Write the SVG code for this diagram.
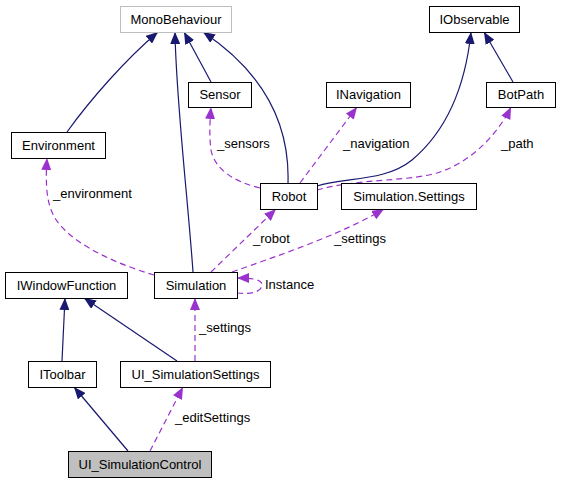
<svg xmlns="http://www.w3.org/2000/svg" width="561" height="483" viewBox="0 0 561 483">
<style>
text{font-family:"Liberation Sans",Arial,sans-serif;font-size:13px;fill:#000}
.n rect{fill:#fff;stroke:#000;stroke-width:1}
.n text{text-anchor:middle}
.inh{fill:none;stroke:#191970;stroke-width:1.2;marker-end:url(#ah)}
.use{fill:none;stroke:#9a32cd;stroke-width:1.2;stroke-dasharray:6,4;marker-end:url(#ap)}
</style>
<defs>
<marker id="ah" viewBox="0 0 12 10" refX="12" refY="5" markerWidth="12" markerHeight="10" markerUnits="userSpaceOnUse" orient="auto"><path d="M0,0 L12,5 L0,10 z" fill="#191970"/></marker>
<marker id="ap" viewBox="0 0 12 10" refX="12" refY="5" markerWidth="12" markerHeight="10" markerUnits="userSpaceOnUse" orient="auto"><path d="M0,0 L12,5 L0,10 z" fill="#9a32cd"/></marker>
</defs>
<rect width="561" height="483" fill="#fff"/>
<g id="connectors">
<path class="inh" d="M67,132 C90,100 125,60 158,32"/>
<path class="inh" d="M193,272 C188,200 176,100 175,32"/>
<path class="inh" d="M211,82 L184,32"/>
<path class="inh" d="M288,183 C290,120 260,70 203,32"/>
<path class="inh" d="M513,82 L484,32"/>
<path class="inh" d="M317,186 C345,177 385,182 412,160 C450,128 466,80 471,32"/>
<path class="inh" d="M62,361 L65,298"/>
<path class="inh" d="M177,361 L84,298"/>
<path class="inh" d="M128,451 L74,387"/>
<path class="use" d="M260,188 C235,182 215,170 211,150 C209,135 210,120 211,107"/>
<path class="use" d="M300,183 L357,107"/>
<path class="use" d="M317,190 C360,178 410,182 440,172 C475,160 500,130 511,107"/>
<path class="use" d="M154,275 C120,265 80,248 60,225 C47,210 45,190 47,158"/>
<path class="use" d="M211,272 L276,209"/>
<path class="use" d="M232,272 C280,255 340,235 384,209"/>
<path class="use" d="M237,293 C255,295 262,290 262,285 C262,280 255,278 237,278"/>
<path class="use" d="M195,361 L195,298"/>
<path class="use" d="M150,451 L183,387"/>
<text x="217" y="148">_sensors</text>
<text x="343" y="148">_navigation</text>
<text x="501" y="148">_path</text>
<text x="53" y="198">_environment</text>
<text x="253" y="243">_robot</text>
<text x="334" y="243">_settings</text>
<text x="265" y="289">Instance</text>
<text x="199" y="332">_settings</text>
<text x="175" y="422">_editSettings</text>
</g>
<g id="MonoBehaviour" class="n"><rect x="120.5" y="6.5" width="111" height="26" style="stroke:#bfbfbf"/><text x="176" y="23.5">MonoBehaviour</text></g>
<g id="Sensor" class="n"><rect x="188.5" y="82.5" width="63" height="25"/><text x="220" y="99">Sensor</text></g>
<g id="Environment" class="n"><rect x="11.5" y="132.5" width="94" height="26"/><text x="58.5" y="149.5">Environment</text></g>
<g id="IObservable" class="n"><rect x="429.5" y="6.5" width="90" height="26"/><text x="474.5" y="23.5">IObservable</text></g>
<g id="INavigation" class="n"><rect x="326.5" y="82.5" width="84" height="25"/><text x="368.5" y="99">INavigation</text></g>
<g id="BotPath" class="n"><rect x="486.5" y="82.5" width="69" height="25"/><text x="521" y="99">BotPath</text></g>
<g id="Robot" class="n"><rect x="260.5" y="183.5" width="57" height="26"/><text x="289" y="200.5">Robot</text></g>
<g id="SimulationSettings" class="n"><rect x="341.5" y="183.5" width="135" height="26"/><text x="409" y="200.5">Simulation.Settings</text></g>
<g id="Simulation" class="n"><rect x="154.5" y="272.5" width="83" height="26"/><text x="196" y="289.5">Simulation</text></g>
<g id="IWindowFunction" class="n"><rect x="5.5" y="272.5" width="122" height="26"/><text x="66.5" y="289.5">IWindowFunction</text></g>
<g id="IToolbar" class="n"><rect x="28.5" y="361.5" width="68" height="26"/><text x="62.5" y="378.5">IToolbar</text></g>
<g id="UI_SimulationSettings" class="n"><rect x="120.5" y="361.5" width="150" height="26"/><text x="195.5" y="378.5">UI_SimulationSettings</text></g>
<g id="UI_SimulationControl" class="n"><rect x="68.5" y="451.5" width="143" height="26" style="fill:#bfbfbf"/><text x="140" y="468.5">UI_SimulationControl</text></g>
</svg>
